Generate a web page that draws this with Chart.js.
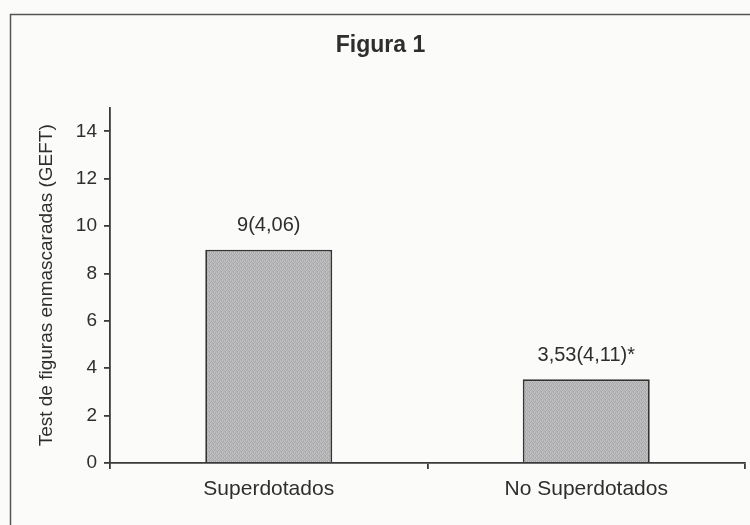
<!DOCTYPE html>
<html>
<head>
<meta charset="utf-8">
<script src="https://cdn.jsdelivr.net/npm/chart.js@4/dist/chart.umd.min.js"></script>
<style>
  html, body { margin: 0; padding: 0; background: #fbfbfa; }
  #wrap { width: 750px; height: 525px; }
</style>
</head>
<body>
<div id="wrap"><canvas id="myChart" width="750" height="525"></canvas></div>
<script>
// values
var categories = ['Superdotados', 'No Superdotados'];
var means = [9, 3.53];
var barLabels = ['9(4,06)', '3,53(4,11)*'];

var ink = '#2e2e2e';
var font = 'Liberation Sans, Arial, sans-serif';

// grainy grey fill like the printed bars
function grainFill(){
    var shades = [
        '#b9b8b9', '#a9a8aa', '#c4c3c4', '#b2b1b3',
        '#c6c5c6', '#b0afb1', '#bbbabb', '#a6a5a7',
        '#aeadaf', '#c1c0c1', '#a8a7a9', '#bebdbe',
        '#b7b6b8', '#a4a3a5', '#c3c2c3', '#b4b3b5'
    ];
    var tile = document.createElement('canvas');
    tile.width = 4; tile.height = 4;
    var t = tile.getContext('2d');
    for (var i = 0; i < 16; i++) {
        t.fillStyle = shades[i];
        t.fillRect(i % 4, Math.floor(i / 4), 1, 1);
    }
    return t.createPattern(tile, 'repeat');
}

// scanned page frame (only top and left edges are on the picture)
var framePlugin = {
    id: 'frame',
    beforeDraw: function(chart){
        var ctx = chart.ctx;
        ctx.save();
        ctx.fillStyle = '#fbfbfa';
        ctx.fillRect(0, 0, chart.width, chart.height);
        ctx.strokeStyle = '#555';
        ctx.lineWidth = 1.5;
        ctx.strokeRect(10.5, 14.5, 780, 560);
        ctx.restore();
    }
};

var valueLabels = {
    id: 'valueLabels',
    afterDatasetsDraw: function(chart){
        var ctx = chart.ctx;
        var meta = chart.getDatasetMeta(0);
        ctx.save();
        ctx.font = '20px ' + font;
        ctx.fillStyle = ink;
        ctx.textAlign = 'center';
        ctx.textBaseline = 'middle';
        meta.data.forEach(function(bar, i){
            ctx.fillText(barLabels[i], bar.x, bar.y - 24);
        });
        ctx.restore();
    }
};

var ctx = document.getElementById('myChart').getContext('2d');
var barChart = new Chart(ctx, {
    type: 'bar',
    data: {
        labels: categories,
        datasets: [{
            data: means,
            backgroundColor: grainFill(),
            borderColor: '#333',
            borderWidth: 1.8,
            barPercentage: 0.4,
            categoryPercentage: 1
        }]
    },
    options: {
        responsive: false,
        animation: false,
        layout: { padding: { left: 16, right: 5, top: 0, bottom: 0 } },
        plugins: {
            legend: { display: false },
            tooltip: { enabled: false },
            title: {
                display: true,
                text: 'Figura 1',
                color: ink,
                font: { family: font, size: 23, weight: 'bold' },
                padding: { top: 32, bottom: 48 }
            }
        },
        scales: {
            x: {
                border: { color: '#3a3a3a', width: 1.8 },
                grid: { drawOnChartArea: false, drawTicks: true, tickLength: 6, color: '#3a3a3a', lineWidth: 1.8 },
                ticks: { color: ink, font: { family: font, size: 21 }, padding: 8 },
                afterFit: function(scale){ scale.height = 62; }
            },
            y: {
                min: 0,
                max: 15,
                border: { color: '#3a3a3a', width: 1.8 },
                grid: { drawOnChartArea: false, drawTicks: true, tickLength: 6, color: '#3a3a3a', lineWidth: 1.8 },
                ticks: { stepSize: 2, includeBounds: false, color: ink, font: { family: font, size: 19 }, padding: 7 },
                title: {
                    display: true,
                    text: 'Test de figuras enmascaradas (GEFT)',
                    color: ink,
                    font: { family: font, size: 19 },
                    padding: { top: 19.6, bottom: 0 }
                },
                afterFit: function(scale){ scale.width = 94; }
            }
        }
    },
    plugins: [framePlugin, valueLabels]
});
</script>
</body>
</html>
